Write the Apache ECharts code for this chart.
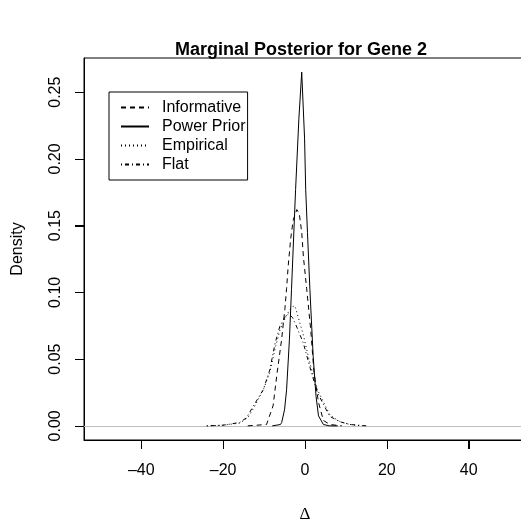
<!DOCTYPE html>
<html>
<head>
<meta charset="utf-8">
<script src="https://cdn.jsdelivr.net/npm/echarts@6/dist/echarts.min.js"></script>
<style>html,body{margin:0;padding:0;background:#fff;}#chart{width:521px;height:523px;}</style>
</head>
<body>
<div id="chart"></div>
<script>
// Tick labels
var xTicks = [-40, -20, 0, 20, 40];
var yTicks = [0, 0.05, 0.10, 0.15, 0.20, 0.25];

// Informative (dashed)
var infX = [-14, -9.4, -7.8, -6.8, -5.7, -4.9, -4.5, -4.1, -3.5, -2.9, -2.0, -1.4, -0.8, -0.4, 0.4, 1.4, 2.2, 3.3, 4.5, 6.1, 9];
var infY = [0, 0.001, 0.015, 0.04, 0.065, 0.088, 0.103, 0.12, 0.14, 0.154, 0.162, 0.159, 0.145, 0.127, 0.103, 0.072, 0.04, 0.0175, 0.004, 0.001, 0];

// Power Prior (solid)
var powX = [-8, -6, -5.7, -5, -4.5, -3.8, -3.3, -2.3, -1.5, -0.8, -0.1, 0.17, 0.6, 1.2, 2.0, 2.7, 3.3, 4.5, 6, 8];
var powY = [0, 0.001, 0.0025, 0.012, 0.027, 0.065, 0.102, 0.177, 0.23, 0.265, 0.215, 0.177, 0.145, 0.102, 0.052, 0.022, 0.0075, 0.001, 0, 0];

// Empirical (dotted)
var empX = [-24, -20, -16, -14, -12.6, -10.2, -8.6, -7.3, -6.1, -4.5, -3.3, -2.5, -2.0, -0.4, 1.2, 2.9, 4.5, 6.1, 8.6, 11, 14];
var empY = [0, 0.0005, 0.002, 0.006, 0.013, 0.027, 0.040, 0.058, 0.072, 0.083, 0.089, 0.09, 0.085, 0.068, 0.047, 0.028, 0.018, 0.008, 0.003, 0.001, 0];

// Flat (dot-dash)
var flatX = [-24, -20, -16, -14.3, -12.6, -10.2, -8.6, -7.3, -6.1, -4.8, -4.0, -3.0, -2.0, -0.4, 1.2, 2.9, 4.5, 6.1, 8.6, 11, 15];
var flatY = [0, 0.0005, 0.0025, 0.006, 0.015, 0.027, 0.042, 0.062, 0.075, 0.082, 0.084, 0.081, 0.074, 0.062, 0.044, 0.026, 0.016, 0.007, 0.003, 0.001, 0];

var seriesNames = ['Informative', 'Power Prior', 'Empirical', 'Flat'];

function pairs(xs, ys) { return xs.map(function (x, i) { return [x, ys[i]]; }); }

var FONT = 'Liberation Sans, Arial, Helvetica, sans-serif';
var X_MIN = -54, X_MAX = 54, Y_MIN = -0.0106, Y_MAX = 0.2756;
var TICK_LEN = 9;
var W = 521, H = 523;
var chart = echarts.init(document.getElementById('chart'), null, { renderer: 'canvas' });

function lineSeries(name, data, type) {
  return {
    name: name, type: 'line', data: data, symbol: 'none', smooth: false,
    xAxisIndex: 0, yAxisIndex: 0,
    lineStyle: { color: '#000', width: 1, type: type },
    itemStyle: { color: '#000' },
    emphasis: { disabled: true }, animation: false, z: 3
  };
}

function gridRect(showBorder) {
  return {
    left: 84, top: 58, right: -5, bottom: 83,
    containLabel: false, outerBoundsMode: 'none',
    show: showBorder, borderColor: '#000', borderWidth: 1, backgroundColor: 'transparent'
  };
}

var hiddenAxis = function (gi) {
  return { type: 'value', gridIndex: gi, min: 1, max: 2, show: false };
};

var option = {
  animation: false,
  backgroundColor: '#fff',
  title: {
    text: 'Marginal Posterior for Gene 2',
    left: 296, top: 36, textAlign: 'center',
    textStyle: { fontFamily: FONT, fontWeight: 'bold', fontSize: 18, color: '#000' }
  },
  legend: {
    orient: 'vertical', left: 109, top: 92,
    data: seriesNames,
    itemWidth: 28, itemHeight: 14, itemGap: 0,
    padding: [6, 2, 6, 11],
    borderColor: '#000', borderWidth: 1, borderRadius: 0,
    backgroundColor: '#fff',
    selectedMode: false,
    itemStyle: { color: 'rgba(0,0,0,0)', borderWidth: 0, opacity: 0 },
    textStyle: { fontFamily: FONT, fontSize: 16, color: '#000', lineHeight: 19, padding: [0, 0, 0, 8] }
  },
  grid: [gridRect(true), gridRect(false), gridRect(false)],
  xAxis: [
    { type: 'value', gridIndex: 0, min: X_MIN, max: X_MAX, show: false },
    {
      type: 'value', gridIndex: 1, min: X_MIN, max: X_MAX, position: 'bottom',
      name: 'Δ', nameLocation: 'middle', nameGap: 66,
      nameTextStyle: { fontFamily: 'Liberation Serif, serif', fontSize: 17, color: '#000' },
      axisLine: { show: true, lineStyle: { color: '#000', width: 1 } },
      splitLine: { show: false },
      axisTick: { show: false },
      axisLabel: { show: true, customValues: xTicks, margin: 23, fontFamily: FONT, fontSize: 16, color: '#000',
        formatter: function (v) { return v < 0 ? '\u2013' + Math.abs(v) : String(v); } }
    },
    hiddenAxis(2)
  ],
  yAxis: [
    { type: 'value', gridIndex: 0, min: Y_MIN, max: Y_MAX, show: false },
    hiddenAxis(1),
    {
      type: 'value', gridIndex: 2, min: Y_MIN, max: Y_MAX, position: 'left',
      name: 'Density', nameLocation: 'middle', nameGap: 58,
      nameTextStyle: { fontFamily: FONT, fontSize: 16, color: '#000' },
      axisLine: { show: true, lineStyle: { color: '#000', width: 1 } },
      splitLine: { show: false },
      axisTick: { show: false },
      axisLabel: { show: true, customValues: yTicks, margin: 20, rotate: 90, fontFamily: FONT, fontSize: 16, color: '#000',
        formatter: function (v) { return v.toFixed(2); } }
    }
  ],
  series: [
    lineSeries('Informative', pairs(infX, infY), [5, 4]),
    lineSeries('Power Prior', pairs(powX, powY), 'solid'),
    lineSeries('Empirical', pairs(empX, empY), [1, 3]),
    lineSeries('Flat', pairs(flatX, flatY), [1, 3, 4, 3])
  ]
};
option.series[0].markLine = {
  silent: true, symbol: 'none', label: { show: false },
  lineStyle: { color: '#bebebe', width: 1, type: 'solid' },
  data: [{ yAxis: 0 }], z: 1
};
chart.setOption(option);

// ---- Tick marks: thin strip grids whose split lines fall on the tick values ----
var xFirst = xTicks[0], xLast = xTicks[xTicks.length - 1];
var yFirst = yTicks[0], yLast = yTicks[yTicks.length - 1];
var pxA = chart.convertToPixel({ gridIndex: 0 }, [xFirst, Y_MIN]);
var pxB = chart.convertToPixel({ gridIndex: 0 }, [xLast, Y_MIN]);
var pyA = chart.convertToPixel({ gridIndex: 0 }, [X_MIN, yFirst]);
var pyB = chart.convertToPixel({ gridIndex: 0 }, [X_MIN, yLast]);

if (pxA && pxB && pyA && pyB) {
  var stripX = { left: pxA[0], right: W - pxB[0], top: pxA[1], height: TICK_LEN,
    containLabel: false, outerBoundsMode: 'none', show: false };
  var stripY = { left: pyA[0] - TICK_LEN, width: TICK_LEN, top: pyB[1], bottom: H - pyA[1],
    containLabel: false, outerBoundsMode: 'none', show: false };
  var tickSplit = { show: true, lineStyle: { color: '#000', width: 1, type: 'solid' } };
  var opt2 = {
    grid: option.grid.concat([stripX, stripY]),
    xAxis: option.xAxis.concat([
      { type: 'value', gridIndex: 3, min: xFirst, max: xLast, interval: xTicks[1] - xTicks[0],
        axisLine: { show: false }, axisTick: { show: false }, axisLabel: { show: false },
        splitLine: tickSplit },
      hiddenAxis(4)
    ]),
    yAxis: option.yAxis.concat([
      hiddenAxis(3),
      { type: 'value', gridIndex: 4, min: yFirst, max: yLast, interval: yTicks[1] - yTicks[0],
        axisLine: { show: false }, axisTick: { show: false }, axisLabel: { show: false },
        splitLine: tickSplit }
    ])
  };
  chart.setOption(opt2);

  // Backup: same ticks as graphic lines placed via the chart's scales
  var tickEls = [];
  xTicks.forEach(function (v) {
    var p = chart.convertToPixel({ gridIndex: 0 }, [v, Y_MIN]);
    var x = Math.round(p[0]) + 0.5;
    tickEls.push({ type: 'line', z: 100, silent: true,
      shape: { x1: x, y1: p[1], x2: x, y2: p[1] + TICK_LEN },
      style: { stroke: '#000', lineWidth: 1 } });
  });
  yTicks.forEach(function (v) {
    var p = chart.convertToPixel({ gridIndex: 0 }, [X_MIN, v]);
    var y = Math.round(p[1]) + 0.5;
    tickEls.push({ type: 'line', z: 100, silent: true,
      shape: { x1: p[0], y1: y, x2: p[0] - TICK_LEN, y2: y },
      style: { stroke: '#000', lineWidth: 1 } });
  });
  chart.setOption({ graphic: tickEls });
}
</script>
</body>
</html>
